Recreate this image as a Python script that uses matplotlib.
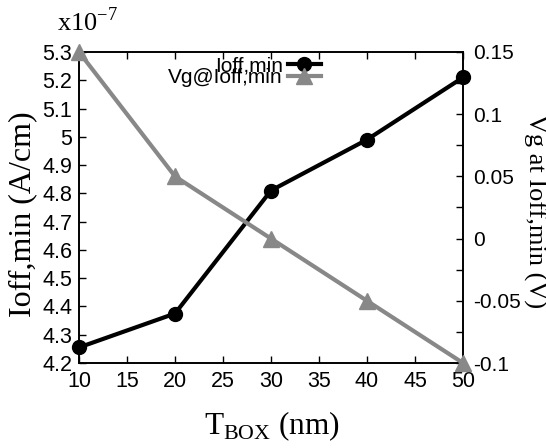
import matplotlib
matplotlib.use('Agg')
import matplotlib.pyplot as plt
from matplotlib.ticker import MultipleLocator, FormatStrFormatter

# data
t_box = [10, 20, 30, 40, 50]
ioff_min = [4.255, 4.375, 4.81, 4.99, 5.21]  # x1e-7 A/cm
vg_at_ioff = [0.15, 0.05, 0.0, -0.05, -0.1]  # V

sans = 'Liberation Sans'
serif = 'Liberation Serif'
W, H = 546, 448

fig = plt.figure(figsize=(W / 100, H / 100), dpi=100)
ax = fig.add_axes([79 / W, 1 - 363 / H, (463 - 79) / W, (363 - 52) / H])
ax2 = ax.twinx()

l1, = ax.plot(t_box, ioff_min, color='black', lw=3, marker='o', ms=10,
              label='Ioff,min', clip_on=False, zorder=3)
l2, = ax2.plot(t_box, vg_at_ioff, color='#888888', lw=3, marker='^', ms=11,
               label='Vg@Ioff,min', clip_on=False, zorder=3)

ax.set_xlim(10, 50)
ax.set_ylim(4.2, 5.3)
ax2.set_ylim(-0.1, 0.15)
ax.xaxis.set_major_locator(MultipleLocator(5))
ax.yaxis.set_major_locator(MultipleLocator(0.1))
ax2.yaxis.set_major_locator(MultipleLocator(0.05))
ax2.yaxis.set_minor_locator(MultipleLocator(0.025))
ax.xaxis.set_major_formatter(FormatStrFormatter('%g'))
ax.yaxis.set_major_formatter(FormatStrFormatter('%g'))
ax2.yaxis.set_major_formatter(FormatStrFormatter('%g'))

ax.tick_params(direction='in', top=True, right=False, length=5, width=1,
               labelsize=15.5)
ax.tick_params(axis='x', pad=6)
ax.tick_params(axis='y', pad=5)
ax2.tick_params(which='both', direction='in', length=5, width=1,
                labelsize=15, pad=7)
for lab in ax.get_xticklabels() + ax.get_yticklabels() + ax2.get_yticklabels():
    lab.set_family(sans)
for sp in list(ax.spines.values()) + list(ax2.spines.values()):
    sp.set_linewidth(1.2)

fig.text(272 / W, 1 - 426 / H, r'T$_{\mathregular{BOX}}$ (nm)', family=serif, fontsize=22.5,
         ha='center', va='center')
fig.text(23 / W, 1 - 214 / H, 'Ioff,min (A/cm)', family=serif, fontsize=23,
         rotation=90, ha='center', va='center')
fig.text(535 / W, 1 - 211 / H, 'Vg at Ioff,min (V)', family=serif, fontsize=19,
         rotation=-90, ha='center', va='center')
fig.text(57 / W, 1 - 22 / H, r'x10$^{\mathregular{-7}}$', family=serif, fontsize=19,
         ha='left', va='center')

leg = ax.legend([l1, l2], ['Ioff,min', 'Vg@Ioff,min'], loc='upper right',
                bbox_to_anchor=(333 / W, 1 - 44 / H), bbox_transform=fig.transFigure,
                frameon=False, markerfirst=False, prop={'family': sans, 'size': 15},
                handlelength=1.55, labelspacing=-0.35, borderpad=0.1, handletextpad=0.25)
for t in leg.get_texts():
    t.set_ha('right')

fig.savefig('out.png', dpi=100)
